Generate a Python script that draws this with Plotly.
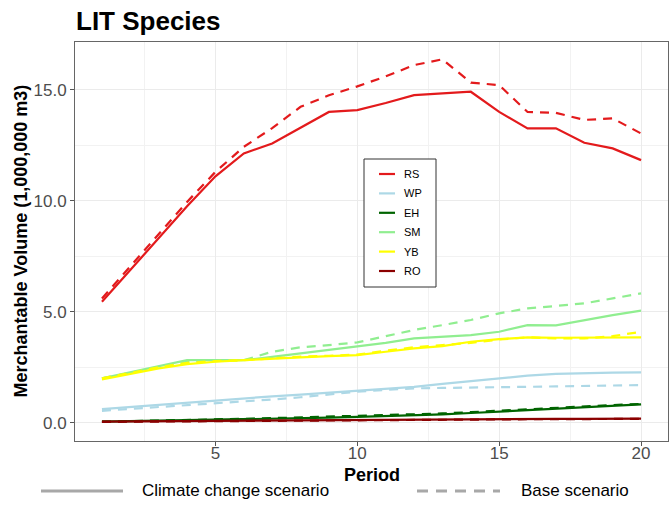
import plotly.graph_objects as go

periods = list(range(1, 21))

species = ["RS", "WP", "EH", "SM", "YB", "RO"]
colors = ["#E31A1C", "#ADD8E6", "#006400", "#90EE90", "#FFFF00", "#8B0000"]

RS_cc = [5.45, 6.9, 8.3, 9.75, 11.1, 12.13, 12.58, 13.3, 14.0, 14.08, 14.4, 14.76, 14.85, 14.91, 14.0, 13.26, 13.26, 12.61, 12.36, 11.83]
RS_base = [5.6, 7.05, 8.5, 9.95, 11.3, 12.43, 13.27, 14.23, 14.75, 15.15, 15.6, 16.11, 16.37, 15.32, 15.21, 14.0, 13.96, 13.64, 13.71, 13.03]

WP_cc = [0.62, 0.72, 0.82, 0.92, 1.02, 1.1, 1.19, 1.27, 1.35, 1.44, 1.53, 1.62, 1.75, 1.88, 2.0, 2.12, 2.2, 2.24, 2.26, 2.27]
WP_base = [0.54, 0.62, 0.7, 0.79, 0.87, 0.96, 1.05, 1.15, 1.27, 1.4, 1.48, 1.55, 1.57, 1.58, 1.58, 1.62, 1.64, 1.65, 1.67, 1.7]

EH_cc = [0.05, 0.07, 0.09, 0.11, 0.13, 0.15, 0.17, 0.2, 0.23, 0.27, 0.3, 0.33, 0.38, 0.44, 0.5, 0.57, 0.64, 0.71, 0.77, 0.83]
EH_base = [0.05, 0.07, 0.09, 0.12, 0.15, 0.18, 0.21, 0.24, 0.27, 0.3, 0.33, 0.37, 0.42, 0.48, 0.55, 0.62, 0.68, 0.74, 0.8, 0.85]

SM_cc = [2.0, 2.28, 2.55, 2.82, 2.82, 2.82, 2.97, 3.12, 3.27, 3.42, 3.6, 3.8, 3.88, 3.95, 4.1, 4.4, 4.39, 4.63, 4.85, 5.05]
SM_base = [2.0, 2.25, 2.5, 2.75, 2.8, 2.82, 3.2, 3.4, 3.5, 3.62, 3.9, 4.18, 4.4, 4.63, 4.93, 5.15, 5.26, 5.38, 5.6, 5.83]

YB_cc = [1.95, 2.2, 2.45, 2.64, 2.75, 2.82, 2.9, 2.95, 3.0, 3.05, 3.2, 3.35, 3.45, 3.65, 3.77, 3.85, 3.83, 3.83, 3.85, 3.85]
YB_base = [2.0, 2.25, 2.5, 2.7, 2.78, 2.82, 2.9, 2.98, 3.02, 3.07, 3.25, 3.4, 3.5, 3.6, 3.75, 3.85, 3.8, 3.8, 3.9, 4.1]

RO_cc = [0.05, 0.06, 0.07, 0.08, 0.09, 0.1, 0.11, 0.12, 0.12, 0.13, 0.14, 0.14, 0.15, 0.16, 0.17, 0.17, 0.18, 0.18, 0.19, 0.19]
RO_base = [0.04, 0.05, 0.06, 0.07, 0.08, 0.09, 0.1, 0.11, 0.11, 0.12, 0.13, 0.13, 0.14, 0.15, 0.15, 0.16, 0.16, 0.17, 0.17, 0.18]

climate = [RS_cc, WP_cc, EH_cc, SM_cc, YB_cc, RO_cc]
base = [RS_base, WP_base, EH_base, SM_base, YB_base, RO_base]

scenarios = ["Climate change scenario", "Base scenario"]
x_ticks = [5, 10, 15, 20]
y_ticks = [0, 5, 10, 15]
y_tick_labels = ["0.0", "5.0", "10.0", "15.0"]

W, H = 671, 507
ML, MR, MT, MB = 75, 3, 42, 66
PW, PH = W - ML - MR, H - MT - MB
FONT = "Liberation Sans, Arial, sans-serif"
DASH = "9px,7px"


def px(xp):
    return (xp - ML) / PW


def py(yp):
    return (MT + PH - yp) / PH


fig = go.Figure()
for name, col, cc, bs in zip(species, colors, climate, base):
    fig.add_trace(go.Scatter(x=periods, y=cc, mode="lines", name=name,
                             line=dict(color=col, width=2.2), showlegend=False))
    fig.add_trace(go.Scatter(x=periods, y=bs, mode="lines", name=name + " base",
                             line=dict(color=col, width=2.2, dash=DASH), showlegend=False))

shapes = []
annotations = []

# species legend (inside panel)
bx0, bx1, by0, by1 = 364, 436, 159, 287
shapes.append(dict(type="rect", xref="paper", yref="paper",
                   x0=px(bx0), x1=px(bx1), y0=py(by1), y1=py(by0),
                   line=dict(color="#333333", width=1), fillcolor="white", layer="above"))
for i, (name, col) in enumerate(zip(species, colors)):
    yy = 174 + i * 19.4
    shapes.append(dict(type="line", xref="paper", yref="paper",
                       x0=px(379), x1=px(395), y0=py(yy), y1=py(yy),
                       line=dict(color=col, width=2.2), layer="above"))
    annotations.append(dict(text=name, xref="paper", yref="paper", x=px(402), y=py(yy),
                            xanchor="left", yanchor="middle", showarrow=False,
                            font=dict(family=FONT, size=11, color="#000000")))

# linetype legend (bottom)
ly = 491
leg_items = [(41, 123, 140, "solid"), (417, 500, 519, "11px,8px")]
for sc, (lx0, lx1, tx, dsh) in zip(scenarios, leg_items):
    shapes.append(dict(type="line", xref="paper", yref="paper",
                       x0=px(lx0), x1=px(lx1), y0=py(ly), y1=py(ly),
                       line=dict(color="#A8A8A8", width=3, dash=dsh), layer="above"))
    annotations.append(dict(text=sc, xref="paper", yref="paper", x=px(tx), y=py(ly),
                            xanchor="left", yanchor="middle", showarrow=False,
                            font=dict(family=FONT, size=17, color="#000000")))

# axis titles
annotations.append(dict(text="<b>Period</b>", xref="paper", yref="paper", x=0.5, y=py(475),
                        xanchor="center", yanchor="middle", showarrow=False,
                        font=dict(family=FONT, size=18, color="#000000")))
annotations.append(dict(text="<b>Merchantable Volume (1,000,000 m3)</b>", xref="paper", yref="paper",
                        x=px(20), y=0.5, xanchor="center", yanchor="middle", showarrow=False,
                        textangle=-90, font=dict(family=FONT, size=18, color="#000000")))
# title
annotations.append(dict(text="<b>LIT Species</b>", xref="paper", yref="paper", x=px(74), y=py(21),
                        xanchor="left", yanchor="middle", showarrow=False,
                        font=dict(family=FONT, size=26, color="#000000")))

fig.update_layout(
    width=W, height=H,
    margin=dict(l=ML, r=MR, t=MT, b=MB),
    paper_bgcolor="white", plot_bgcolor="white",
    showlegend=False,
    shapes=shapes, annotations=annotations,
    font=dict(family=FONT),
)
fig.update_xaxes(range=[0.05, 20.95], tickvals=x_ticks, ticktext=[str(v) for v in x_ticks],
                 showgrid=True, gridcolor="#EBEBEB", gridwidth=1.1,
                 minor=dict(tickvals=[2.5, 7.5, 12.5, 17.5], showgrid=True, gridcolor="#F2F2F2", gridwidth=0.6, ticks=""),
                 ticks="outside", ticklen=4, tickcolor="#555555", tickwidth=1,
                 ticklabelstandoff=-7,
                 tickfont=dict(family=FONT, size=17, color="#4D4D4D"),
                 showline=True, linecolor="#666666", linewidth=1, mirror=True, zeroline=False)
fig.update_yaxes(range=[-0.82, 17.15], tickvals=y_ticks, ticktext=y_tick_labels,
                 showgrid=True, gridcolor="#EBEBEB", gridwidth=1.1,
                 minor=dict(tickvals=[2.5, 7.5, 12.5], showgrid=True, gridcolor="#F2F2F2", gridwidth=0.6, ticks=""),
                 ticks="outside", ticklen=4, tickcolor="#555555", tickwidth=1,
                 tickfont=dict(family=FONT, size=17, color="#4D4D4D"),
                 showline=True, linecolor="#666666", linewidth=1, mirror=True, zeroline=False)

fig.write_html("out.html")
